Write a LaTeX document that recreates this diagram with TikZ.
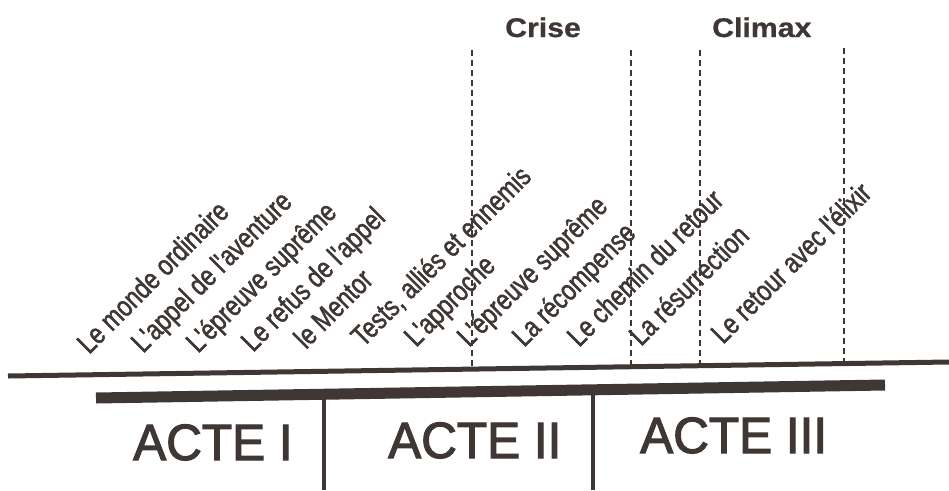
\documentclass[tikz,border=0pt]{standalone}
\usepackage{fontspec}
\setmainfont{Liberation Sans}
\newfontfamily\lblfont[FakeStretch=0.8,FakeBold=1.6]{Liberation Sans}
\newfontfamily\actfont[FakeStretch=0.97,FakeBold=2.2]{Liberation Sans}
\newfontfamily\headfont[FakeStretch=1.12,FakeBold=0.8]{Liberation Sans Bold}
\definecolor{ink}{RGB}{62,55,52}
\begin{document}
\begin{tikzpicture}[x=1pt,y=-1pt,
  lbl/.style={anchor=base west, rotate=45, inner sep=0pt, font=\lblfont\fontsize{29}{29}\selectfont, text=ink},
  head/.style={anchor=base west, inner sep=0pt, font=\headfont\fontsize{27}{27}\selectfont, text=ink},
  acte/.style={anchor=base west, inner sep=0pt, font=\actfont\fontsize{51}{51}\selectfont, text=ink},
  guide/.style={draw=ink, line width=1.6pt, dash pattern=on 6pt off 4pt},
  axisline/.style={draw=ink, line width=5pt},
  actbar/.style={draw=ink, line width=11pt},
  actsep/.style={draw=ink, line width=4pt}]
\useasboundingbox (0,0) rectangle (949,490);

% main time line
\coordinate (axL) at (8,376);
\coordinate (axR) at (949,362);
\draw[axisline] (axL) -- (axR);

% act bar
\coordinate (barL) at (96,398);
\coordinate (barR) at (885,385);
\draw[actbar] (barL) -- (barR);

% act separators
\coordinate (s1t) at (324,394);
\coordinate (s1b) at (324,490);
\coordinate (s2t) at (593,390);
\coordinate (s2b) at (593,490);
\draw[actsep] (s1t) -- (s1b);
\draw[actsep] (s2t) -- (s2b);

% dashed guides
\coordinate (d1t) at (472,50);  \coordinate (d1b) at (472,369);
\coordinate (d2t) at (631,50);  \coordinate (d2b) at (631,367);
\coordinate (d3t) at (700,50);  \coordinate (d3b) at (700,366);
\coordinate (d4t) at (844,48);  \coordinate (d4b) at (844,364);
\draw[guide] (d1t) -- (d1b);
\draw[guide] (d2t) -- (d2b);
\draw[guide] (d3t) -- (d3b);
\draw[guide] (d4t) -- (d4b);

% headings
\node[head] (crise) at (505,37) {Crise};
\node[head] (climax) at (712,37) {Climax};

% stage labels
\node[lbl] (l1) at (89,355) {Le monde ordinaire};
\node[lbl] (l2) at (143,354) {L'appel de l'aventure};
\node[lbl] (l3) at (198,354) {L'épreuve suprême};
\node[lbl] (l4) at (253,353) {Le refus de l'appel};
\node[lbl] (l5) at (306,350) {le Mentor};
\node[lbl] (l6) at (363,348) {Tests, alliés et ennemis};
\node[lbl] (l7) at (416,348) {L'approche};
\node[lbl] (l8) at (469,348) {L'épreuve suprême};
\node[lbl] (l9) at (524,348) {La récompense};
\node[lbl] (l10) at (579,348) {Le chemin du retour};
\node[lbl] (l11) at (641,347) {La résurrection};
\node[lbl] (l12) at (723,345) {Le retour avec l'élixir};

% acts
\node[acte] (a1) at (133,460) {ACTE I};
\node[acte] (a2) at (388,458) {ACTE II};
\node[acte] (a3) at (640,453) {ACTE III};
\end{tikzpicture}
\end{document}
